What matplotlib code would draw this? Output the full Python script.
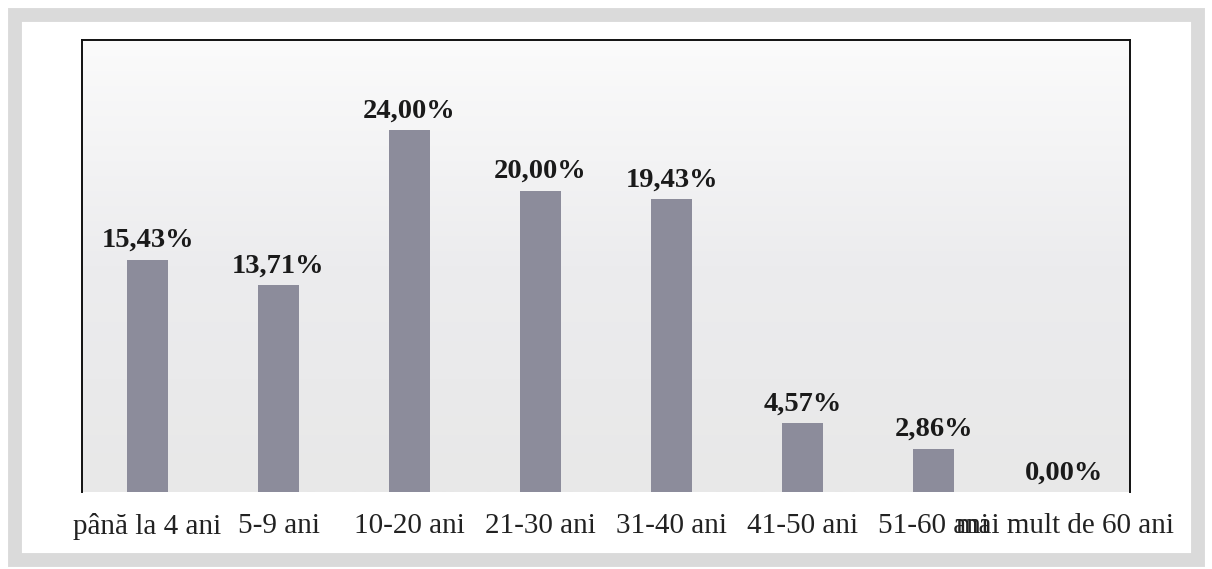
import matplotlib.pyplot as plt
import matplotlib.patches as mpatches
from matplotlib.colors import LinearSegmentedColormap
import numpy as np

categories = ['până la 4 ani', '5-9 ani', '10-20 ani', '21-30 ani', '31-40 ani',
              '41-50 ani', '51-60 ani', 'mai mult de 60 ani']
values = [15.43, 13.71, 24.00, 20.00, 19.43, 4.57, 2.86, 0.00]
labels = ['15,43%', '13,71%', '24,00%', '20,00%', '19,43%', '4,57%', '2,86%', '0,00%']

plt.rcParams['font.family'] = ['Liberation Serif', 'DejaVu Serif']

fig = plt.figure(figsize=(12.12, 5.69), dpi=100)
fig.patch.set_facecolor('white')

# grey scan frame around the chart
frame = mpatches.Rectangle((15 / 1212, 9 / 569), 1183 / 1212, 545 / 569,
                           transform=fig.transFigure, fill=False,
                           edgecolor='#dadada', linewidth=10)
fig.patches.append(frame)

ax = fig.add_axes([82 / 1212, 77 / 569, 1048 / 1212, 452 / 569])

# light gradient background of the plot area
bg = LinearSegmentedColormap.from_list('bg', ['#fbfbfb', '#ececee', '#e8e8e8'])
grad = np.linspace(0, 1, 256).reshape(-1, 1)
ax.imshow(grad, extent=[-0.5, 7.5, 0, 30], aspect='auto', cmap=bg,
          origin='upper', zorder=0)

x = np.arange(len(categories))
ax.bar(x, values, width=0.31, color='#8c8c9b', zorder=2)

for xi, v, lab in zip(x, values, labels):
    ax.text(xi, v + 0.85, lab, ha='center', va='baseline', fontsize=20.5,
            fontweight='bold', color='#1a1a1a', zorder=3)

ax.set_xlim(-0.5, 7.5)
ax.set_ylim(0, 30)
ax.set_xticks(x)
ax.set_xticklabels(categories, fontsize=21, color='#222222')
ax.tick_params(axis='x', length=0, pad=15)
ax.set_yticks([])
for side in ['left', 'top', 'right']:
    ax.spines[side].set_linewidth(1.4)
    ax.spines[side].set_color('#111111')
ax.spines['bottom'].set_visible(False)

plt.savefig('out.png', dpi=100)
